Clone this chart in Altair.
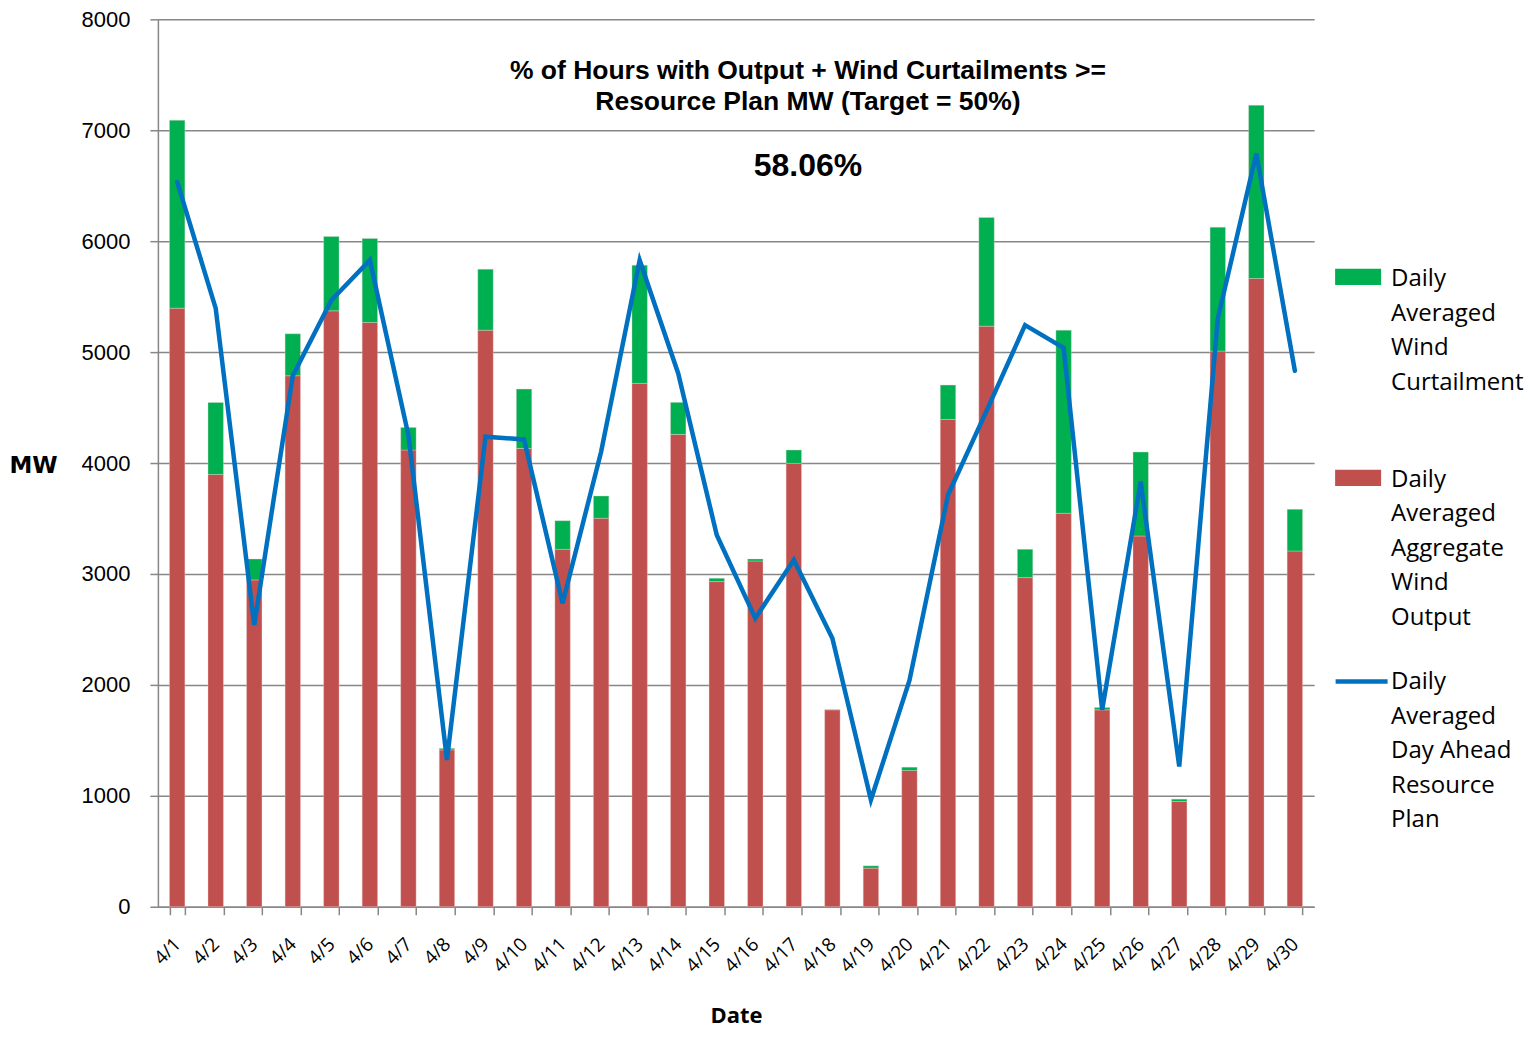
import altair as alt
import pandas as pd

dates = ["4/1", "4/2", "4/3", "4/4", "4/5", "4/6", "4/7", "4/8", "4/9", "4/10",
         "4/11", "4/12", "4/13", "4/14", "4/15", "4/16", "4/17", "4/18", "4/19", "4/20",
         "4/21", "4/22", "4/23", "4/24", "4/25", "4/26", "4/27", "4/28", "4/29", "4/30"]

output_mw = [5396, 3897, 2946, 4787, 5372, 5267, 4117, 1414, 5198, 4132,
             3222, 3502, 4718, 4258, 2931, 3117, 3997, 1775, 348, 1228,
             4393, 5234, 2967, 3547, 1775, 3342, 949, 5009, 5664, 3207]

curtail_mw = [1694, 649, 189, 378, 670, 757, 204, 14, 550, 535,
              258, 201, 1066, 289, 30, 18, 120, 4, 21, 30,
              310, 979, 255, 1651, 21, 757, 21, 1117, 1561, 376]

plan_mw = [6534, 5394, 2540, 4787, 5468, 5829, 4250, 1324, 4237, 4213,
           2736, 4102, 5829, 4808, 3351, 2601, 3126, 2420, 964, 2040,
           3712, 4470, 5243, 5039, 1775, 3832, 1264, 5303, 6790, 4832]

CURT = "Daily Averaged Wind Curtailment"
OUT = "Daily Averaged Aggregate Wind Output"
PLAN = "Daily Averaged Day Ahead Resource Plan"

title_lines = ["% of Hours with Output + Wind Curtailments >=", "Resource Plan MW (Target = 50%)"]
pct_text = "58.06%"

bars_df = pd.DataFrame({
    "date": dates * 2,
    "series": [OUT] * len(dates) + [CURT] * len(dates),
    "mw": output_mw + curtail_mw,
    "stack_order": [0] * len(dates) + [1] * len(dates),
})
line_df = pd.DataFrame({"date": dates, "series": [PLAN] * len(dates), "mw": plan_mw})

GRID = "#878787"

x_enc = alt.X(
    "date:N", sort=dates,
    scale=alt.Scale(paddingInner=0.6, paddingOuter=0.3),
    axis=alt.Axis(
        title="Date", labelAngle=-45, labelAlign="right", labelBaseline="middle",
        labelFont="Open Sans", labelFontSize=19, labelColor="#000000", labelPadding=26,
        tickBand="extent", tickSize=8, tickColor=GRID, tickWidth=1.5,
        domainColor=GRID, domainWidth=1.5, grid=False,
        titleFont="Open Sans", titleFontSize=22, titleFontWeight="bold",
        titleColor="#000000", titlePadding=30,
    ),
)

y_scale = alt.Scale(domain=[0, 8000], nice=False)
y_axis = alt.Axis(
    title="MW", titleAngle=0, titleAlign="center", titleBaseline="middle",
    titleX=-125, titleY=446, titleFont="DejaVu Sans", titleFontSize=23,
    titleFontWeight="bold", titleColor="#000000",
    values=[0, 1000, 2000, 3000, 4000, 5000, 6000, 7000, 8000], format="d",
    labelFont="Liberation Sans", labelFontSize=22, labelColor="#000000", labelPadding=20,
    tickSize=8, tickColor=GRID, tickWidth=1.5, domainColor=GRID, domainWidth=1.5,
    grid=True, gridColor=GRID, gridWidth=1.5,
)

bars = alt.Chart(bars_df).mark_bar(stroke="#f2d2d2", strokeWidth=0.6, strokeOpacity=0.6).encode(
    x=x_enc,
    y=alt.Y("mw:Q", stack="zero", scale=y_scale, axis=y_axis),
    color=alt.Color(
        "series:N",
        scale=alt.Scale(domain=[CURT, OUT], range=["#00B050", "#C0504D"]),
        legend=alt.Legend(
            orient="none", legendX=1178, legendY=225, title=None,
            symbolType="M-1,0.07H1V0.78H-1Z", symbolSize=2116,
            symbolStrokeWidth=0, symbolOpacity=1,
            labelFont="Open Sans", labelFontSize=24, labelColor="#000000",
            labelBaseline="top", labelOffset=10, labelLimit=400, rowPadding=50,
            labelExpr="split(datum.label, ' ')",
        ),
    ),
    order=alt.Order("stack_order:Q", sort="ascending"),
)

line = alt.Chart(line_df).mark_line(strokeWidth=4.5, strokeCap="round").encode(
    x=alt.X("date:N", sort=dates),
    y=alt.Y("mw:Q", scale=y_scale),
    color=alt.Color(
        "series:N",
        scale=alt.Scale(domain=[PLAN], range=["#0070C0"]),
        legend=alt.Legend(
            orient="none", legendX=1176, legendY=623, title=None,
            symbolType="M-1,0.43H1", symbolSize=2704, symbolStrokeWidth=4.5,
            labelFont="Open Sans", labelFontSize=24, labelColor="#000000",
            labelBaseline="top", labelOffset=1, labelLimit=400,
            labelExpr="['Daily', 'Averaged', 'Day Ahead', 'Resource', 'Plan']",
        ),
    ),
)

chart = alt.layer(bars, line).resolve_scale(color="independent").properties(
    width=1157, height=888,
    padding={"left": 0, "top": 0, "right": 0, "bottom": 0},
    title=alt.TitleParams(
        text=title_lines, subtitle=pct_text, anchor="middle", dx=72, offset=-174,
        font="Liberation Sans", fontSize=26.5, fontWeight="bold", lineHeight=31,
        color="#000000", subtitleFont="Liberation Sans", subtitleFontSize=32,
        subtitleFontWeight="bold", subtitleColor="#000000", subtitlePadding=36,
    ),
).configure(
    view=alt.ViewConfig(strokeWidth=0),
    style={"guide-label": {"lineHeight": 34.5}},
)

chart.save("out.html", embed_options={"renderer": "svg", "actions": False})
